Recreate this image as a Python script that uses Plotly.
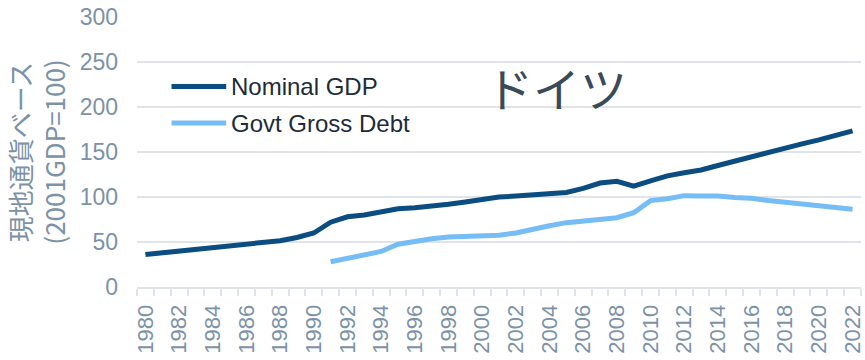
import plotly.graph_objects as go

years = list(range(1980, 2023))
nominal_gdp = [36, 38, 39.5, 41, 43, 45.5, 48, 49.5, 51.5, 55, 60, 72, 78, 80, 84, 87, 88, 89.5,
               92, 94.5, 97, 100, 101, 102, 103.5, 105, 109.5, 115.5, 117.5, 112, 118, 123.5,
               127, 130, 135, 140, 145, 149.5, 154, 159, 163.5, 168.5, 173.5]
govt_debt = [None] * 11 + [28, 32, 35.5, 39.5, 47.5, 51, 53.5, 55.5, 56, 56.5, 57.5, 60, 64.5,
                           68, 71.5, 73.5, 74.5, 77, 82.5, 96, 98, 101.5, 101, 101, 99.5, 98.5,
                           96, 94, 92, 89.5, 88.5, 86.5]
series_names = ["Nominal GDP", "Govt Gross Debt"]
tick_years = list(range(1980, 2023, 2))
y_ticks = [0, 50, 100, 150, 200, 250, 300]
country = "ドイツ"
y_title = "現地通貨ベース<br>(2001GDP=100)"

c_gdp = "#0b4d80"
c_debt = "#76bdf5"
grid = "#e0e4e9"
tick_col = "#7b92a7"
font_fam = "Liberation Sans, Arial, sans-serif"

fig = go.Figure()
fig.add_trace(go.Scatter(x=years, y=nominal_gdp, mode="lines", name=series_names[0],
                         line=dict(color=c_gdp, width=5), showlegend=False, connectgaps=False))
fig.add_trace(go.Scatter(x=years, y=govt_debt, mode="lines", name=series_names[1],
                         line=dict(color=c_debt, width=5), showlegend=False, connectgaps=False))

# manual legend (longer line samples like the reference)
leg_y = [0.7423, 0.607]
for name, col, yy in zip(series_names, [c_gdp, c_debt], leg_y):
    fig.add_shape(type="line", xref="paper", yref="paper", x0=0.0477, x1=0.1232, y0=yy, y1=yy,
                  line=dict(color=col, width=5))
    fig.add_annotation(xref="paper", yref="paper", x=0.1277, y=yy, text=name, showarrow=False,
                       xanchor="left", yanchor="middle",
                       font=dict(family=font_fam, size=24, color="#1e2b38"))

fig.add_annotation(xref="paper", yref="paper", x=0.580, y=0.742, text=country, showarrow=False,
                   xanchor="center", yanchor="middle",
                   font=dict(family="Noto Sans CJK JP", size=47, color="#3b4a58"))

fig.update_layout(
    width=865, height=360,
    margin=dict(l=137, r=0, t=17, b=72.5),
    paper_bgcolor="white", plot_bgcolor="white",
    font=dict(family=font_fam, color=tick_col),
)
fig.update_xaxes(
    range=[1979.5, 2022.5], tickmode="array", tickvals=tick_years,
    ticktext=[str(y) for y in tick_years], tickangle=-90, ticks="",
    tickfont=dict(family=font_fam, size=22, color=tick_col),
    showgrid=False, zeroline=False, showline=True, linecolor=grid, linewidth=2,
    minor=dict(tick0=1979.5, dtick=1, ticks="outside", ticklen=7, tickcolor=grid,
               tickwidth=1.5, showgrid=False),
    ticklabelstandoff=7, ticklabeloverflow="allow",
)
fig.update_yaxes(
    range=[0, 300], tickmode="array", tickvals=y_ticks, ticks="",
    tickfont=dict(family=font_fam, size=23, color=tick_col),
    showgrid=True, gridcolor=grid, gridwidth=2, zeroline=False, showline=False,
    ticklabelstandoff=18,
    title=dict(text=y_title, font=dict(family="Noto Sans CJK JP, " + font_fam, size=26,
                                       color=tick_col), standoff=6),
)

fig.write_html("out.html")
